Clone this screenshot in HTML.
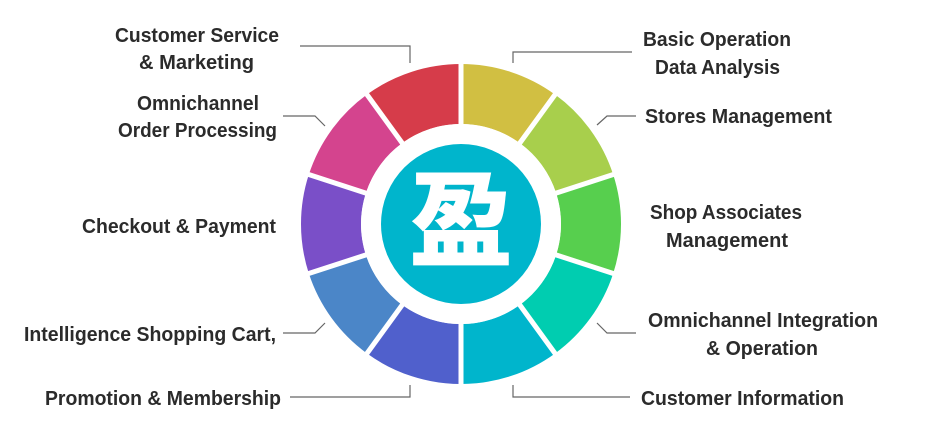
<!DOCTYPE html>
<html><head><meta charset="utf-8"><style>
html,body{margin:0;padding:0;background:#fff;}
svg{display:block;}
text{font-family:"Liberation Sans",Arial,sans-serif;font-weight:bold;font-size:20px;fill:#2b2b2b;}
</style></head><body>
<svg width="926" height="433" viewBox="0 0 926 433" xmlns="http://www.w3.org/2000/svg">
<g fill="none" stroke-width="60">
<circle cx="461" cy="224" r="130" stroke="#d1bf42" stroke-dasharray="81.68 735.1" transform="rotate(-90 461 224)"/>
<circle cx="461" cy="224" r="130" stroke="#a8cf4c" stroke-dasharray="81.68 735.1" transform="rotate(-54 461 224)"/>
<circle cx="461" cy="224" r="130" stroke="#57cf4e" stroke-dasharray="81.68 735.1" transform="rotate(-18 461 224)"/>
<circle cx="461" cy="224" r="130" stroke="#00cdb0" stroke-dasharray="81.68 735.1" transform="rotate(18 461 224)"/>
<circle cx="461" cy="224" r="130" stroke="#00b5cc" stroke-dasharray="81.68 735.1" transform="rotate(54 461 224)"/>
<circle cx="461" cy="224" r="130" stroke="#5060cc" stroke-dasharray="81.68 735.1" transform="rotate(90 461 224)"/>
<circle cx="461" cy="224" r="130" stroke="#4b86c8" stroke-dasharray="81.68 735.1" transform="rotate(126 461 224)"/>
<circle cx="461" cy="224" r="130" stroke="#7a4fc8" stroke-dasharray="81.68 735.1" transform="rotate(162 461 224)"/>
<circle cx="461" cy="224" r="130" stroke="#d4448e" stroke-dasharray="81.68 735.1" transform="rotate(198 461 224)"/>
<circle cx="461" cy="224" r="130" stroke="#d63c4a" stroke-dasharray="81.68 735.1" transform="rotate(234 461 224)"/>
</g>
<g stroke="#fff" stroke-width="5">
<line x1="461" y1="59" x2="461" y2="389"/>
<line x1="558" y1="90.5" x2="364" y2="357.5"/>
<line x1="617.9" y1="173" x2="304.1" y2="275"/>
<line x1="617.9" y1="275" x2="304.1" y2="173"/>
<line x1="558" y1="357.5" x2="364" y2="90.5"/>
</g>
<circle cx="461" cy="224" r="100" fill="#fff"/>
<circle cx="461" cy="224" r="80" fill="#00b5cc"/>
<text x="461" y="258" text-anchor="middle" style="font-family:'Noto Sans CJK SC',sans-serif;font-weight:900;font-size:104px;fill:#fff">盈</text>

<g stroke="#666" stroke-width="1.2" fill="none">
<polyline points="300,46 410,46 410,63"/>
<polyline points="283,116 315,116 325,126"/>
<polyline points="283,333 315,333 325,323"/>
<polyline points="290,397 410,397 410,385"/>
<polyline points="513,63 513,52 632,52"/>
<polyline points="597,125 607,116 636,116"/>
<polyline points="597,323 607,333 636,333"/>
<polyline points="513,385 513,397 630,397"/>
</g>

<text x="115" y="42" textLength="164" lengthAdjust="spacingAndGlyphs">Customer Service</text>
<text x="139" y="69" textLength="115" lengthAdjust="spacingAndGlyphs">&amp; Marketing</text>
<text x="137" y="110" textLength="122" lengthAdjust="spacingAndGlyphs">Omnichannel</text>
<text x="118" y="137" textLength="159" lengthAdjust="spacingAndGlyphs">Order Processing</text>
<text x="82" y="233" textLength="194" lengthAdjust="spacingAndGlyphs">Checkout &amp; Payment</text>
<text x="24" y="341" textLength="252" lengthAdjust="spacingAndGlyphs">Intelligence Shopping Cart,</text>
<text x="45" y="405" textLength="236" lengthAdjust="spacingAndGlyphs">Promotion &amp; Membership</text>

<text x="643" y="46" textLength="148" lengthAdjust="spacingAndGlyphs">Basic Operation</text>
<text x="655" y="74" textLength="125" lengthAdjust="spacingAndGlyphs">Data Analysis</text>
<text x="645" y="123" textLength="187" lengthAdjust="spacingAndGlyphs">Stores Management</text>
<text x="650" y="219" textLength="152" lengthAdjust="spacingAndGlyphs">Shop Associates</text>
<text x="666" y="247" textLength="122" lengthAdjust="spacingAndGlyphs">Management</text>
<text x="648" y="327" textLength="230" lengthAdjust="spacingAndGlyphs">Omnichannel Integration</text>
<text x="706" y="355" textLength="112" lengthAdjust="spacingAndGlyphs">&amp; Operation</text>
<text x="641" y="405" textLength="203" lengthAdjust="spacingAndGlyphs">Customer Information</text>
</svg>
</body></html>
